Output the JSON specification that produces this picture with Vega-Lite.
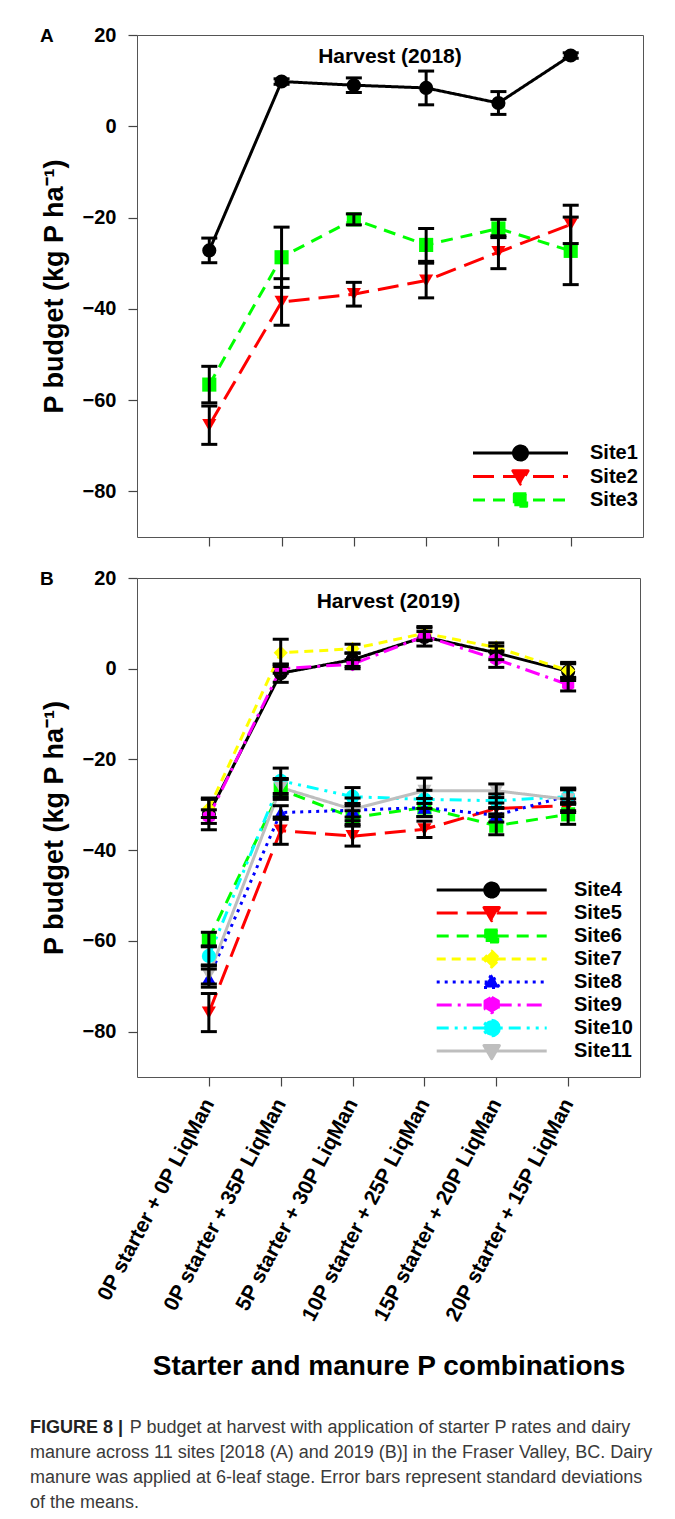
{
  "$schema": "https://vega.github.io/schema/vega-lite/v6.json",
  "background": "white",
  "padding": {"left": 30, "top": 24, "right": 5, "bottom": 5},
  "spacing": 34,
  "config": {
    "font": "Liberation Sans",
    "view": {"stroke": "#555", "strokeWidth": 1},
    "axis": {"labelFont": "Liberation Sans", "labelFontSize": 20, "labelFontWeight": "bold", "labelColor": "#000", "tickColor": "#444", "tickSize": 9, "tickWidth": 1.2, "domain": false, "grid": false, "titleFont": "Liberation Sans", "titleFontWeight": "bold", "titleColor": "#000"},
    "title": {"font": "Liberation Sans", "fontSize": 19, "fontWeight": "bold", "color": "#000"}
  },
  "vconcat": [
    {
      "bounds": "flush",
      "spacing": 41,
      "resolve": {"scale": {"color": "independent", "shape": "independent", "strokeDash": "independent", "x": "independent", "y": "independent"}, "legend": {"color": "independent", "shape": "independent", "strokeDash": "independent"}},
      "vconcat": [
        {
          "width": 506,
          "height": 502,
          "title": {"text": "A", "anchor": "start", "frame": "group", "dx": -97, "offset": -30, "baseline": "middle"},
          "data": {"values": [
            {"site": "Site1", "trt": "0P starter + 0P LiqMan", "mean": -27.2, "sd": 2.7},
            {"site": "Site1", "trt": "0P starter + 35P LiqMan", "mean": 9.8, "sd": 0.6},
            {"site": "Site1", "trt": "5P starter + 30P LiqMan", "mean": 9.0, "sd": 1.6},
            {"site": "Site1", "trt": "10P starter + 25P LiqMan", "mean": 8.4, "sd": 3.7},
            {"site": "Site1", "trt": "15P starter + 20P LiqMan", "mean": 5.1, "sd": 2.5},
            {"site": "Site1", "trt": "20P starter + 15P LiqMan", "mean": 15.5, "sd": 0.6},
            {"site": "Site2", "trt": "0P starter + 0P LiqMan", "mean": -65.5, "sd": 4.2},
            {"site": "Site2", "trt": "0P starter + 35P LiqMan", "mean": -38.5, "sd": 5.1},
            {"site": "Site2", "trt": "5P starter + 30P LiqMan", "mean": -36.8, "sd": 2.6},
            {"site": "Site2", "trt": "10P starter + 25P LiqMan", "mean": -33.8, "sd": 3.8},
            {"site": "Site2", "trt": "15P starter + 20P LiqMan", "mean": -27.6, "sd": 3.6},
            {"site": "Site2", "trt": "20P starter + 15P LiqMan", "mean": -21.5, "sd": 4.2},
            {"site": "Site3", "trt": "0P starter + 0P LiqMan", "mean": -56.6, "sd": 4.0},
            {"site": "Site3", "trt": "0P starter + 35P LiqMan", "mean": -28.7, "sd": 6.6},
            {"site": "Site3", "trt": "5P starter + 30P LiqMan", "mean": -20.4, "sd": 1.2},
            {"site": "Site3", "trt": "10P starter + 25P LiqMan", "mean": -26.0, "sd": 3.6},
            {"site": "Site3", "trt": "15P starter + 20P LiqMan", "mean": -22.4, "sd": 2.0},
            {"site": "Site3", "trt": "20P starter + 15P LiqMan", "mean": -27.3, "sd": 7.4}
          ]},
          "layer": [
            {
              "mark": {"type": "line", "strokeWidth": 3},
              "encoding": {
                "x": {"field": "trt", "type": "ordinal", "scale": {"type": "point", "padding": 1, "domain": ["0P starter + 0P LiqMan", "0P starter + 35P LiqMan", "5P starter + 30P LiqMan", "10P starter + 25P LiqMan", "15P starter + 20P LiqMan", "20P starter + 15P LiqMan"]}, "axis": {"labels": false, "title": null}},
                "y": {"field": "mean", "type": "quantitative", "title": "P budget (kg P ha⁻¹)", "scale": {"domain": [-90, 20], "nice": false, "zero": false}, "axis": {"values": [-80, -60, -40, -20, 0, 20], "labelPadding": 12, "titleFontSize": 27, "titlePadding": 14}},
                "color": {"field": "site", "type": "nominal", "scale": {"domain": ["Site1", "Site2", "Site3"], "range": ["#000000", "#ff0000", "#00ff00"]},
                  "legend": {"title": null, "orient": "none", "legendX": 334.5, "legendY": 408, "padding": 0, "symbolOffset": 0, "symbolSize": 9025, "symbolStrokeWidth": 3, "labelFontSize": 20, "labelFontWeight": "bold", "labelColor": "#000", "labelOffset": 20.5, "rowPadding": 3.5,
                    "encode": {
                      "symbols": {"update": {
                        "y": {"value": 10},
                        "strokeJoin": {"value": "round"},
                        "shape": {"signal": "['M-1,0H1M0.147,0A0.147,0.147,0,1,1,-0.147,0A0.147,0.147,0,1,1,0.147,0Z','M-1,0H1M-0.16,-0.12L0.16,-0.12L0,0.16Z','M-1,0H1M-0.13,-0.13L0.13,-0.13L0.13,0.13L-0.13,0.13Z'][indexof(['Site1','Site2','Site3'],datum.value)]"},
                        "fill": {"signal": "['#000000','#ff0000','#00ff00'][indexof(['Site1','Site2','Site3'],datum.value)]"},
                        "stroke": {"signal": "['#000000','#ff0000','#00ff00'][indexof(['Site1','Site2','Site3'],datum.value)]"},
                        "strokeDash": {"signal": "[[1,0],[21,9],[12,8]][indexof(['Site1','Site2','Site3'],datum.value)]"},
                        "strokeWidth": {"value": 3},
                        "opacity": {"value": 1}
                      }},
                      "labels": {"update": {"y": {"value": 10}}}
                    }}},
                "strokeDash": {"field": "site", "type": "nominal", "scale": {"range": [[1, 0], [21, 9], [12, 8]]}, "legend": null},
                "order": {"value": null}
              }
            },
            {
              "mark": {"type": "point", "filled": true, "size": 200, "opacity": 1},
              "encoding": {
                "x": {"field": "trt", "type": "ordinal"},
                "y": {"field": "mean", "type": "quantitative", "title": "P budget (kg P ha⁻¹)"},
                "color": {"field": "site", "type": "nominal", "legend": null},
                "shape": {"field": "site", "type": "nominal", "scale": {"range": ["circle", "triangle-down", "square"]}, "legend": null}
              }
            },
            {
              "mark": {"type": "errorbar", "color": "black", "ticks": {"size": 16, "thickness": 3, "color": "black", "opacity": 1}, "rule": {"strokeWidth": 3, "color": "black", "opacity": 1}},
              "encoding": {
                "x": {"field": "trt", "type": "ordinal"},
                "y": {"field": "mean", "type": "quantitative", "title": "P budget (kg P ha⁻¹)"},
                "yError": {"field": "sd"}
              }
            },
            {
              "data": {"values": [{"label": "Harvest (2018)"}]},
              "mark": {"type": "text", "fontSize": 21, "fontWeight": "bold", "baseline": "middle", "color": "#000"},
              "encoding": {
                "y": {"datum": 15.2, "type": "quantitative"},
                "text": {"field": "label"}
              }
            }
          ]
        },
        {
          "width": 503,
          "height": 499,
          "title": {"text": "B", "anchor": "start", "frame": "group", "dx": -97, "offset": -30, "baseline": "middle"},
          "data": {"values": [
            {"site": "Site4", "trt": "0P starter + 0P LiqMan", "mean": -32.0, "sd": 3.5},
            {"site": "Site4", "trt": "0P starter + 35P LiqMan", "mean": -1.0, "sd": 2.0},
            {"site": "Site4", "trt": "5P starter + 30P LiqMan", "mean": 2.0, "sd": 1.5},
            {"site": "Site4", "trt": "10P starter + 25P LiqMan", "mean": 7.0, "sd": 2.0},
            {"site": "Site4", "trt": "15P starter + 20P LiqMan", "mean": 3.5, "sd": 1.5},
            {"site": "Site4", "trt": "20P starter + 15P LiqMan", "mean": -0.6, "sd": 2.0},
            {"site": "Site5", "trt": "0P starter + 0P LiqMan", "mean": -75.8, "sd": 4.2},
            {"site": "Site5", "trt": "0P starter + 35P LiqMan", "mean": -35.7, "sd": 3.0},
            {"site": "Site5", "trt": "5P starter + 30P LiqMan", "mean": -36.9, "sd": 2.2},
            {"site": "Site5", "trt": "10P starter + 25P LiqMan", "mean": -35.4, "sd": 1.8},
            {"site": "Site5", "trt": "15P starter + 20P LiqMan", "mean": -30.8, "sd": 1.2},
            {"site": "Site5", "trt": "20P starter + 15P LiqMan", "mean": -30.2, "sd": 1.5},
            {"site": "Site6", "trt": "0P starter + 0P LiqMan", "mean": -59.6, "sd": 1.5},
            {"site": "Site6", "trt": "0P starter + 35P LiqMan", "mean": -26.6, "sd": 2.2},
            {"site": "Site6", "trt": "5P starter + 30P LiqMan", "mean": -32.8, "sd": 1.5},
            {"site": "Site6", "trt": "10P starter + 25P LiqMan", "mean": -30.6, "sd": 2.0},
            {"site": "Site6", "trt": "15P starter + 20P LiqMan", "mean": -34.6, "sd": 2.0},
            {"site": "Site6", "trt": "20P starter + 15P LiqMan", "mean": -32.1, "sd": 2.2},
            {"site": "Site7", "trt": "0P starter + 0P LiqMan", "mean": -30.8, "sd": 2.0},
            {"site": "Site7", "trt": "0P starter + 35P LiqMan", "mean": 3.5, "sd": 3.0},
            {"site": "Site7", "trt": "5P starter + 30P LiqMan", "mean": 4.4, "sd": 1.0},
            {"site": "Site7", "trt": "10P starter + 25P LiqMan", "mean": 7.8, "sd": 1.5},
            {"site": "Site7", "trt": "15P starter + 20P LiqMan", "mean": 4.7, "sd": 1.0},
            {"site": "Site7", "trt": "20P starter + 15P LiqMan", "mean": -0.4, "sd": 1.5},
            {"site": "Site8", "trt": "0P starter + 0P LiqMan", "mean": -68.2, "sd": 2.0},
            {"site": "Site8", "trt": "0P starter + 35P LiqMan", "mean": -31.7, "sd": 1.5},
            {"site": "Site8", "trt": "5P starter + 30P LiqMan", "mean": -31.2, "sd": 1.5},
            {"site": "Site8", "trt": "10P starter + 25P LiqMan", "mean": -30.6, "sd": 2.0},
            {"site": "Site8", "trt": "15P starter + 20P LiqMan", "mean": -32.3, "sd": 1.5},
            {"site": "Site8", "trt": "20P starter + 15P LiqMan", "mean": -28.0, "sd": 1.5},
            {"site": "Site9", "trt": "0P starter + 0P LiqMan", "mean": -32.6, "sd": 1.5},
            {"site": "Site9", "trt": "0P starter + 35P LiqMan", "mean": 0.0, "sd": 1.0},
            {"site": "Site9", "trt": "5P starter + 30P LiqMan", "mean": 1.0, "sd": 1.0},
            {"site": "Site9", "trt": "10P starter + 25P LiqMan", "mean": 7.2, "sd": 1.0},
            {"site": "Site9", "trt": "15P starter + 20P LiqMan", "mean": 2.1, "sd": 1.8},
            {"site": "Site9", "trt": "20P starter + 15P LiqMan", "mean": -3.5, "sd": 1.4},
            {"site": "Site10", "trt": "0P starter + 0P LiqMan", "mean": -63.3, "sd": 2.0},
            {"site": "Site10", "trt": "0P starter + 35P LiqMan", "mean": -24.7, "sd": 2.8},
            {"site": "Site10", "trt": "5P starter + 30P LiqMan", "mean": -28.2, "sd": 2.0},
            {"site": "Site10", "trt": "10P starter + 25P LiqMan", "mean": -28.8, "sd": 2.0},
            {"site": "Site10", "trt": "15P starter + 20P LiqMan", "mean": -29.1, "sd": 1.5},
            {"site": "Site10", "trt": "20P starter + 15P LiqMan", "mean": -28.2, "sd": 1.5},
            {"site": "Site11", "trt": "0P starter + 0P LiqMan", "mean": -67.5, "sd": 2.0},
            {"site": "Site11", "trt": "0P starter + 35P LiqMan", "mean": -26.2, "sd": 2.0},
            {"site": "Site11", "trt": "5P starter + 30P LiqMan", "mean": -31.0, "sd": 2.5},
            {"site": "Site11", "trt": "10P starter + 25P LiqMan", "mean": -26.9, "sd": 2.8},
            {"site": "Site11", "trt": "15P starter + 20P LiqMan", "mean": -26.9, "sd": 1.5},
            {"site": "Site11", "trt": "20P starter + 15P LiqMan", "mean": -28.8, "sd": 2.5}
          ]},
          "layer": [
            {
              "mark": {"type": "line", "strokeWidth": 3},
              "encoding": {
                "x": {"field": "trt", "type": "ordinal", "scale": {"type": "point", "padding": 1, "domain": ["0P starter + 0P LiqMan", "0P starter + 35P LiqMan", "5P starter + 30P LiqMan", "10P starter + 25P LiqMan", "15P starter + 20P LiqMan", "20P starter + 15P LiqMan"]},
                  "axis": {"labelAngle": -62, "labelAlign": "right", "labelBaseline": "middle", "labelFontSize": 21, "labelPadding": 14, "labelLimit": 400, "title": "Starter and manure P combinations", "titleFontSize": 28, "titlePadding": 75}},
                "y": {"field": "mean", "type": "quantitative", "title": "P budget (kg P ha⁻¹)", "scale": {"domain": [-90, 20], "nice": false, "zero": false}, "axis": {"values": [-80, -60, -40, -20, 0, 20], "labelPadding": 12, "titleFontSize": 27, "titlePadding": 14}},
                "color": {"field": "site", "type": "nominal", "scale": {"domain": ["Site4", "Site5", "Site6", "Site7", "Site8", "Site9", "Site10", "Site11"], "range": ["#000000", "#ff0000", "#00ff00", "#ffff00", "#0000ff", "#ff00ff", "#00ffff", "#bebebe"]},
                  "legend": {"title": null, "orient": "none", "legendX": 298.2, "legendY": 302, "padding": 0, "symbolOffset": 0, "symbolSize": 12100, "symbolStrokeWidth": 3, "labelFontSize": 20, "labelFontWeight": "bold", "labelColor": "#000", "labelOffset": 25.8, "rowPadding": 3,
                    "encode": {
                      "symbols": {"update": {
                        "y": {"value": 10},
                        "strokeJoin": {"value": "round"},
                        "shape": {"signal": "['M-1,0H1M0.127,0A0.127,0.127,0,1,1,-0.127,0A0.127,0.127,0,1,1,0.127,0Z','M-1,0H1M-0.14,-0.1L0.14,-0.1L0,0.14Z','M-1,0H1M-0.11,-0.11L0.11,-0.11L0.11,0.11L-0.11,0.11Z','M-1,0H1M0,-0.145L0.145,0L0,0.145L-0.145,0Z','M-1,0H1M-0.14,0.1L0.14,0.1L0,-0.14Z','M-1,0H1M0,-0.14L0.121,-0.07L0.121,0.07L0,0.14L-0.121,0.07L-0.121,-0.07Z','M-1,0H1M0.14,0A0.14,0.14,0,1,1,-0.14,0A0.14,0.14,0,1,1,0.14,0Z','M-1,0H1M-0.14,-0.1L0.14,-0.1L0,0.14Z'][indexof(['Site4','Site5','Site6','Site7','Site8','Site9','Site10','Site11'],datum.value)]"},
                        "fill": {"signal": "['#000000','#ff0000','#00ff00','#ffff00','#0000ff','#ff00ff','#00ffff','#bebebe'][indexof(['Site4','Site5','Site6','Site7','Site8','Site9','Site10','Site11'],datum.value)]"},
                        "stroke": {"signal": "['#000000','#ff0000','#00ff00','#ffff00','#0000ff','#ff00ff','#00ffff','#bebebe'][indexof(['Site4','Site5','Site6','Site7','Site8','Site9','Site10','Site11'],datum.value)]"},
                        "strokeDash": {"signal": "[[1,0],[21,9],[12,8],[9,6],[3,5],[15,6,3,6],[12,6,3,6,3,6],[1,0]][indexof(['Site4','Site5','Site6','Site7','Site8','Site9','Site10','Site11'],datum.value)]"},
                        "strokeWidth": {"value": 3},
                        "opacity": {"value": 1}
                      }},
                      "labels": {"update": {"y": {"value": 10}}}
                    }}},
                "strokeDash": {"field": "site", "type": "nominal", "scale": {"range": [[12, 6, 3, 6, 3, 6], [1, 0], [1, 0], [21, 9], [12, 8], [9, 6], [3, 5], [15, 6, 3, 6]]}, "legend": null},
                "order": {"value": null}
              }
            },
            {
              "mark": {"type": "point", "filled": true, "size": 200, "opacity": 1},
              "encoding": {
                "x": {"field": "trt", "type": "ordinal"},
                "y": {"field": "mean", "type": "quantitative", "title": "P budget (kg P ha⁻¹)"},
                "color": {"field": "site", "type": "nominal", "legend": null},
                "shape": {"field": "site", "type": "nominal", "scale": {"range": ["circle", "triangle-down", "circle", "triangle-down", "square", "diamond", "triangle-up", "M0,-1L0.866,-0.5L0.866,0.5L0,1L-0.866,0.5L-0.866,-0.5Z"]}, "legend": null}
              }
            },
            {
              "mark": {"type": "errorbar", "color": "black", "ticks": {"size": 16, "thickness": 3, "color": "black", "opacity": 1}, "rule": {"strokeWidth": 3, "color": "black", "opacity": 1}},
              "encoding": {
                "x": {"field": "trt", "type": "ordinal"},
                "y": {"field": "mean", "type": "quantitative", "title": "P budget (kg P ha⁻¹)"},
                "yError": {"field": "sd"}
              }
            },
            {
              "data": {"values": [{"label": "Harvest (2019)"}]},
              "mark": {"type": "text", "fontSize": 21, "fontWeight": "bold", "baseline": "middle", "color": "#000"},
              "encoding": {
                "y": {"datum": 14.7, "type": "quantitative"},
                "text": {"field": "label"}
              }
            }
          ]
        }
      ]
    },
    {
      "width": 503,
      "height": 100,
      "view": {"stroke": null},
      "layer": [
        {
          "data": {"values": [
            {"line": 2, "text": "manure across 11 sites [2018 (A) and 2019 (B)] in the Fraser Valley, BC. Dairy"},
            {"line": 3, "text": "manure was applied at 6-leaf stage. Error bars represent standard deviations"},
            {"line": 4, "text": "of the means."}
          ]},
          "mark": {"type": "text", "align": "left", "baseline": "middle", "dx": -107, "fontSize": 18, "color": "#3a3a3a"},
          "encoding": {
            "x": {"datum": 0, "type": "quantitative", "scale": {"domain": [0, 1]}, "axis": null},
            "y": {"field": "line", "type": "ordinal", "scale": {"type": "point", "padding": 0.5, "domain": [1, 2, 3, 4]}, "axis": null},
            "text": {"field": "text"}
          }
        },
        {
          "data": {"values": [{"line": 1, "text": "FIGURE 8 |"}]},
          "mark": {"type": "text", "align": "left", "baseline": "middle", "dx": -107, "fontWeight": "bold", "fontSize": 18, "color": "#222"},
          "encoding": {
            "x": {"datum": 0, "type": "quantitative"},
            "y": {"field": "line", "type": "ordinal"},
            "text": {"field": "text"}
          }
        },
        {
          "data": {"values": [{"line": 1, "text": "P budget at harvest with application of starter P rates and dairy"}]},
          "mark": {"type": "text", "align": "left", "baseline": "middle", "dx": -7.3, "fontSize": 18, "color": "#3a3a3a"},
          "encoding": {
            "x": {"datum": 0, "type": "quantitative"},
            "y": {"field": "line", "type": "ordinal"},
            "text": {"field": "text"}
          }
        }
      ]
    }
  ]
}
